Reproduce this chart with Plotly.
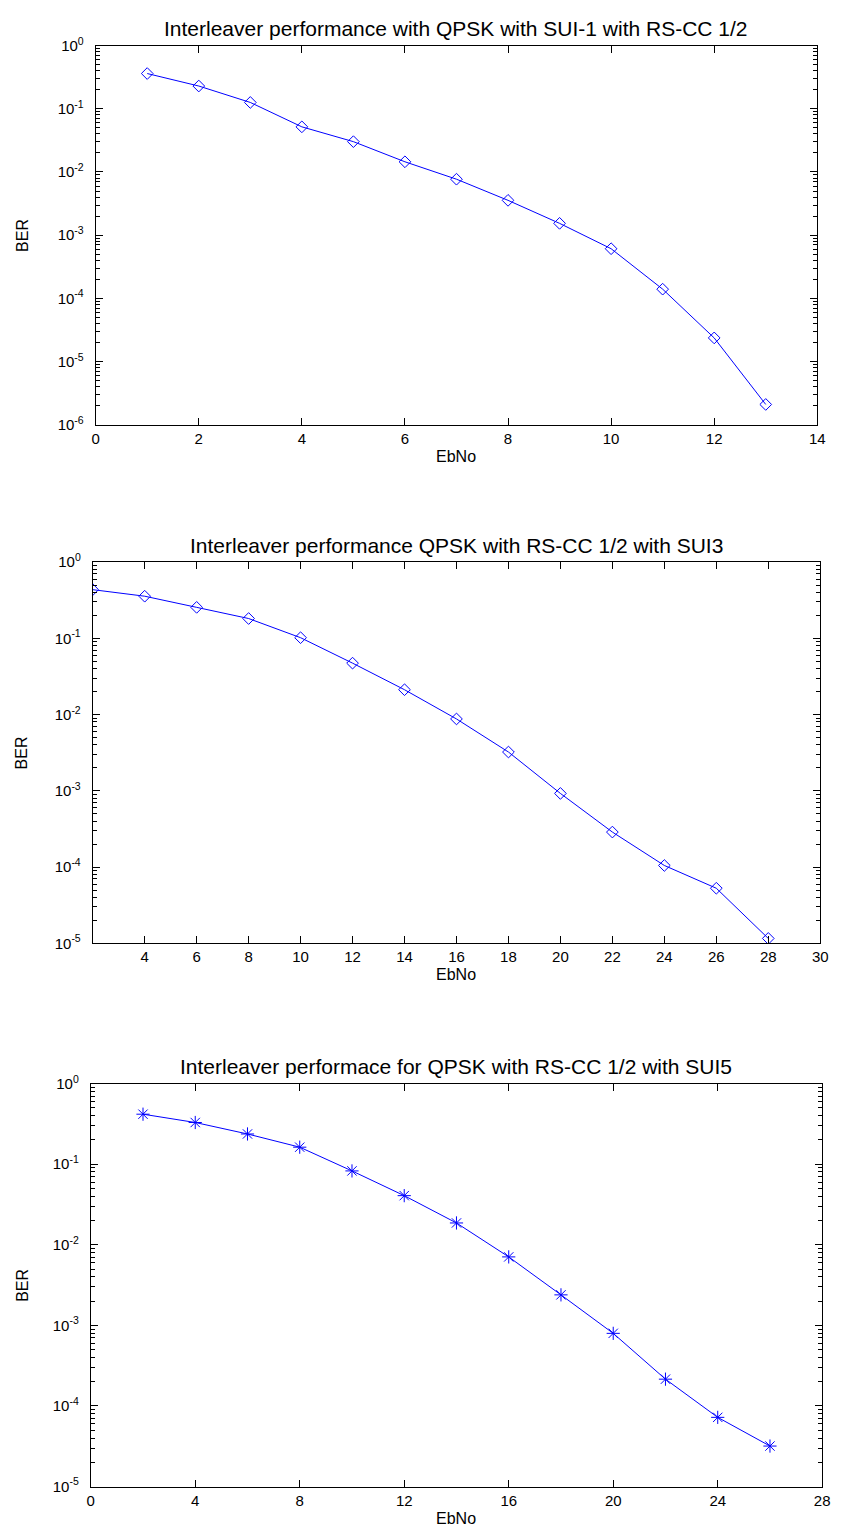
import plotly.graph_objects as go

# --- data ---
ebno_sui1 = [1, 2, 3, 4, 5, 6, 7, 8, 9, 10, 11, 12, 13]
ber_sui1 = [0.361, 0.229, 0.126, 0.0518, 0.0302, 0.0145, 0.00769, 0.00356,
            0.00154, 0.000611, 0.00014, 2.37e-5, 2.1e-6]

ebno_sui3 = [2, 4, 6, 8, 10, 12, 14, 16, 18, 20, 22, 24, 26, 28]
ber_sui3 = [0.435, 0.357, 0.255, 0.182, 0.102, 0.0473, 0.0212, 0.00877,
            0.00323, 0.000925, 0.000288, 0.000105, 5.28e-5, 1.16e-5]

ebno_sui5 = [2, 4, 6, 8, 10, 12, 14, 16, 18, 20, 22, 24, 26]
ber_sui5 = [0.417, 0.329, 0.237, 0.1625, 0.0825, 0.0407, 0.01865, 0.00707,
            0.00239, 0.000796, 0.000215, 7.22e-5, 3.18e-5]

titles = ["Interleaver performance with QPSK with SUI-1 with RS-CC 1/2",
          "Interleaver performance QPSK with RS-CC 1/2 with SUI3",
          "Interleaver performace for QPSK with RS-CC 1/2 with SUI5"]

xticks_sui1 = [0, 2, 4, 6, 8, 10, 12, 14]
xticks_sui3 = [4, 6, 8, 10, 12, 14, 16, 18, 20, 22, 24, 26, 28, 30]
xticks_sui5 = [0, 4, 8, 12, 16, 20, 24, 28]

yexp_sui1 = [0, -1, -2, -3, -4, -5, -6]
yexp_sui3 = [0, -1, -2, -3, -4, -5]
yexp_sui5 = [0, -1, -2, -3, -4, -5]

W, H = 845, 1538
FONT = "Liberation Sans, Arial, sans-serif"
BLUE = "rgb(0,0,255)"

# pixel boxes of the three axes: left, right, top, bottom
boxes = [(93, 825, 35, 419), (90, 828, 558, 944), (88, 830, 1086, 1494)]
xranges = [[0, 14], [2, 30], [0, 28]]
xticks = [xticks_sui1, xticks_sui3, xticks_sui5]
yexps = [yexp_sui1, yexp_sui3, yexp_sui5]
series = [(ebno_sui1, ber_sui1, "diamond-open", 9),
          (ebno_sui3, ber_sui3, "diamond-open", 9),
          (ebno_sui5, ber_sui5, "asterisk-open", 11)]

fig = go.Figure()
annotations = []
for i in range(3):
    n = "" if i == 0 else str(i + 1)
    left, right, top, bottom = boxes[i]
    xs, ys, sym, size = series[i]
    fig.add_trace(go.Scatter(
        x=xs, y=ys, mode="lines+markers",
        line=dict(color=BLUE, width=1),
        marker=dict(symbol=sym, size=size, color=BLUE, line=dict(color=BLUE, width=1)),
        xaxis="x" + n, yaxis="y" + n, showlegend=False))

    exps = yexps[i]
    # minor ticks at 2..9 inside every decade
    minor_vals = [k * 10 ** e for e in exps[1:] for k in range(2, 10)]
    axis_common = dict(showline=True, linecolor="black", linewidth=1, mirror="ticks",
                       ticks="inside", tickcolor="black", tickwidth=1, ticklen=7, showgrid=False,
                       zeroline=False, tickfont=dict(family=FONT, size=15, color="black"))
    fig.layout["xaxis" + n] = dict(
        axis_common, domain=[left / W, right / W], anchor="y" + n,
        range=xranges[i], tickmode="array", tickvals=xticks[i])
    fig.layout["yaxis" + n] = dict(
        axis_common, domain=[1 - bottom / H, 1 - top / H], anchor="x" + n,
        type="log", range=[min(exps), max(exps)],
        tickmode="array", tickvals=[10 ** e for e in exps],
        ticktext=["10<sup>%d</sup>" % e for e in exps],
        ticklabelstandoff=8,
        minor=dict(tickmode="array", tickvals=minor_vals, ticks="inside", ticklen=4,
                   tickcolor="black", tickwidth=1, showgrid=False))

    cx = (left + right) / 2 / W
    annotations.append(dict(text=titles[i], x=cx, y=1 - (top - 17) / H, xref="paper", yref="paper",
                            showarrow=False, font=dict(family=FONT, size=21, color="black"),
                            xanchor="center", yanchor="middle"))
    annotations.append(dict(text="EbNo", x=cx, y=1 - (bottom + 32) / H, xref="paper", yref="paper",
                            showarrow=False, font=dict(family=FONT, size=16, color="black"),
                            xanchor="center", yanchor="middle"))
    annotations.append(dict(text="BER", x=18 / W, y=1 - (top + bottom) / 2 / H, xref="paper", yref="paper",
                            showarrow=False, textangle=-90, font=dict(family=FONT, size=16, color="black"),
                            xanchor="center", yanchor="middle"))

fig.update_layout(width=W, height=H, margin=dict(l=0, r=0, t=0, b=0),
                  paper_bgcolor="white", plot_bgcolor="white",
                  annotations=annotations)
fig.write_html("out.html", config={"displayModeBar": False},
               post_script="document.body.style.margin='0';")
